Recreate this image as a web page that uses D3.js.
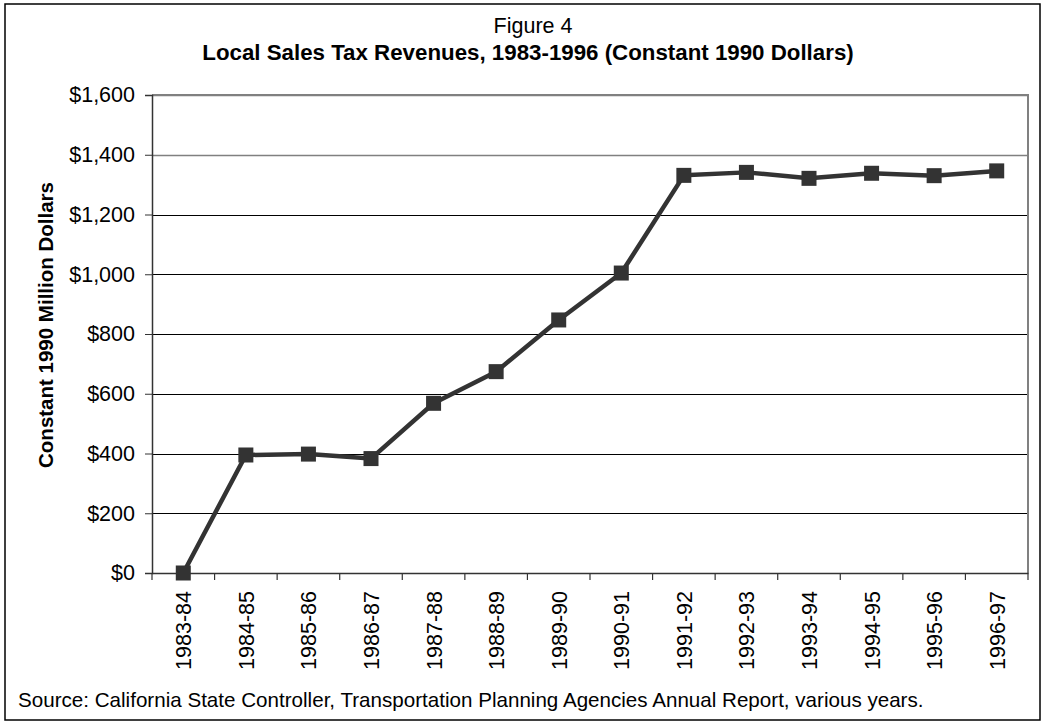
<!DOCTYPE html>
<html lang="en">
<head>
  <meta charset="UTF-8">
  <title>Local Sales Tax Revenues, 1983-1996</title>
  <script src="https://d3js.org/d3.v7.min.js"></script>
  <style>
    body {
      margin: 0;
      padding: 0;
      background-color: #fff;
      font-family: Arial, "Liberation Sans", sans-serif;
    }
    svg { display: block; }
  </style>
</head>
<body>
  <svg width="1043" height="723"></svg>
  <script>
    const years = ["1983-84", "1984-85", "1985-86", "1986-87", "1987-88", "1988-89", "1989-90",
                   "1990-91", "1991-92", "1992-93", "1993-94", "1994-95", "1995-96", "1996-97"];
    const revenues = [0, 395, 398, 383, 568, 674, 847, 1004, 1331, 1341, 1321, 1338, 1330, 1346];
    const yTicks = [0, 200, 400, 600, 800, 1000, 1200, 1400, 1600];

    const width = 1043;
    const height = 723;
    const margin = { top: 95, right: 15, bottom: 150, left: 152 };
    const font = "Arial, 'Liberation Sans', sans-serif";

    const svg = d3.select("svg");

    // outer frame
    svg.append("rect")
      .attr("x", 5).attr("y", 4)
      .attr("width", 1035).attr("height", 716)
      .attr("fill", "#fff")
      .attr("stroke", "#000")
      .attr("stroke-width", 1.5);

    const x = d3.scaleBand()
      .domain(years)
      .range([margin.left, width - margin.right]);

    const y = d3.scaleLinear()
      .domain([0, 1600])
      .range([height - margin.bottom, margin.top]);

    // gridlines
    svg.append("g")
      .selectAll("line")
      .data(yTicks.filter(d => d > 0))
      .enter()
      .append("line")
      .attr("x1", margin.left)
      .attr("x2", width - margin.right)
      .attr("y1", d => Math.round(y(d)) + 0.5)
      .attr("y2", d => Math.round(y(d)) + 0.5)
      .attr("stroke", d => d >= 1400 ? "#808080" : "#000")
      .attr("stroke-width", d => d >= 1400 ? 1.5 : 1);

    // plot border (top / right)
    svg.append("path")
      .attr("d", `M${margin.left},${y(1600)}H${width - margin.right}V${y(0)}`)
      .attr("fill", "none")
      .attr("stroke", "#808080")
      .attr("stroke-width", 2);

    // y axis
    const yAxis = svg.append("g")
      .attr("transform", `translate(${margin.left},0)`)
      .call(d3.axisLeft(y).tickValues(yTicks).tickSize(7).tickPadding(10)
        .tickFormat(d => "$" + d3.format(",")(d)));
    yAxis.select(".domain").attr("stroke", "#333").attr("stroke-width", 1.5);
    yAxis.selectAll(".tick line").attr("stroke", "#333");
    yAxis.selectAll("text")
      .attr("font-size", 21.5)
      .attr("font-family", font)
      .attr("fill", "#000");

    // x axis
    const xAxis = svg.append("g")
      .attr("transform", `translate(0,${y(0)})`)
      .call(d3.axisBottom(x).tickSize(0).tickPadding(0));
    xAxis.select(".domain").attr("stroke", "#333").attr("stroke-width", 1.5);
    xAxis.selectAll("text")
      .attr("font-size", 21.5)
      .attr("font-family", font)
      .attr("fill", "#000")
      .attr("text-anchor", "end")
      .attr("dy", null)
      .attr("y", 0)
      .attr("transform", "translate(8,18) rotate(-90)");

    // x tick marks at band edges
    svg.append("g")
      .selectAll("line")
      .data(years.concat(["end"]))
      .enter()
      .append("line")
      .attr("x1", (d, i) => margin.left + i * x.step())
      .attr("x2", (d, i) => margin.left + i * x.step())
      .attr("y1", y(0))
      .attr("y2", y(0) + 7)
      .attr("stroke", "#333")
      .attr("stroke-width", 1.2);

    // line series
    const line = d3.line()
      .x((d, i) => x(years[i]) + x.bandwidth() / 2)
      .y(d => y(d));

    svg.append("path")
      .datum(revenues)
      .attr("d", line)
      .attr("fill", "none")
      .attr("stroke", "#333")
      .attr("stroke-width", 4.5)
      .attr("stroke-linejoin", "round");

    svg.append("g")
      .selectAll("rect")
      .data(revenues)
      .enter()
      .append("rect")
      .attr("x", (d, i) => x(years[i]) + x.bandwidth() / 2 - 7.5)
      .attr("y", d => y(d) - 7.5)
      .attr("width", 15)
      .attr("height", 15)
      .attr("fill", "#333");

    // titles
    svg.append("text")
      .attr("x", 533).attr("y", 33)
      .attr("text-anchor", "middle")
      .attr("font-size", 21.5)
      .text("Figure 4");

    svg.append("text")
      .attr("x", 528).attr("y", 60)
      .attr("text-anchor", "middle")
      .attr("font-size", 22.3)
      .attr("font-weight", "bold")
      .text("Local Sales Tax Revenues, 1983-1996 (Constant 1990 Dollars)");

    svg.append("text")
      .attr("transform", `translate(53,325) rotate(-90)`)
      .attr("text-anchor", "middle")
      .attr("font-size", 20.5)
      .attr("font-weight", "bold")
      .text("Constant 1990 Million Dollars");

    svg.append("text")
      .attr("x", 18).attr("y", 707)
      .attr("font-size", 20.6)
      .text("Source: California State Controller, Transportation Planning Agencies Annual Report, various years.");
  </script>
</body>
</html>
